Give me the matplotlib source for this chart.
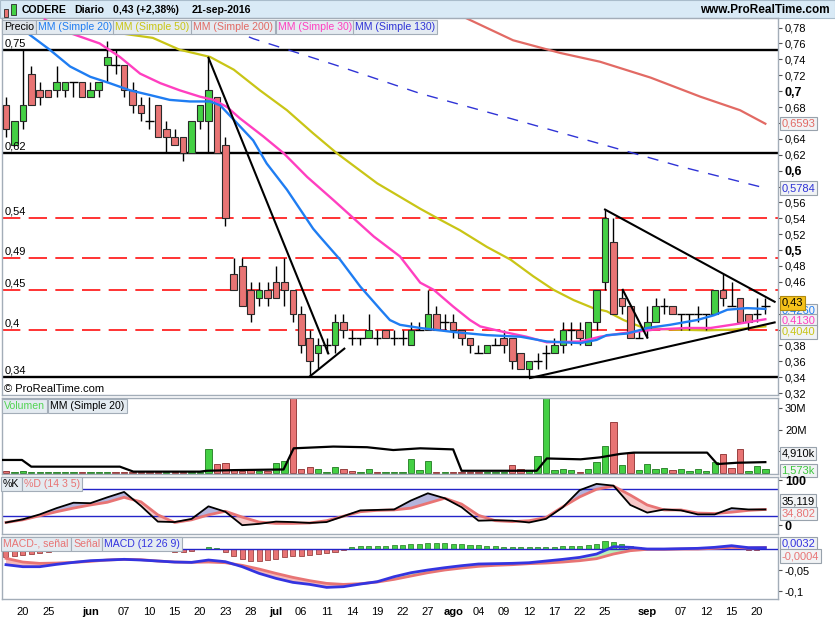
import numpy as np
import pandas as pd
import matplotlib
matplotlib.use("Agg")
import matplotlib.pyplot as plt
import matplotlib.transforms as mtransforms
from matplotlib.patches import Rectangle

plt.rcParams['font.family'] = ['Liberation Sans', 'DejaVu Sans']
plt.rcParams['font.size'] = 8

W, H = 835, 620

# ============================================================
# DATA
# ============================================================
dates = pd.bdate_range('2016-05-18', '2016-09-21')

opens = [0.682, 0.632, 0.662, 0.722, 0.702, 0.702, 0.702, 0.702, 0.712, 0.712,
         0.692, 0.702, 0.733, 0.733, 0.733, 0.702, 0.682, 0.662, 0.682, 0.652,
         0.642, 0.642, 0.622, 0.662, 0.662, 0.692, 0.632, 0.470, 0.480, 0.450,
         0.440, 0.450, 0.460, 0.460, 0.450, 0.420, 0.390, 0.370, 0.380, 0.380,
         0.410, 0.390, 0.390, 0.390, 0.390, 0.400, 0.390, 0.390, 0.380, 0.400,
         0.400, 0.420, 0.410, 0.410, 0.400, 0.390, 0.370, 0.370, 0.380, 0.390,
         0.390, 0.370, 0.350, 0.360, 0.370, 0.370, 0.380, 0.400, 0.400, 0.380,
         0.410, 0.460, 0.510, 0.440, 0.430, 0.390, 0.400, 0.410, 0.430, 0.430,
         0.420, 0.420, 0.420, 0.420, 0.420, 0.450, 0.430, 0.440, 0.420, 0.420,
         0.430]
highs = [0.692, 0.662, 0.753, 0.732, 0.712, 0.702, 0.732, 0.712, 0.712, 0.712,
         0.712, 0.712, 0.763, 0.753, 0.733, 0.712, 0.692, 0.692, 0.682, 0.662,
         0.652, 0.642, 0.662, 0.682, 0.742, 0.692, 0.642, 0.490, 0.490, 0.460,
         0.460, 0.460, 0.480, 0.490, 0.450, 0.430, 0.400, 0.390, 0.390, 0.420,
         0.420, 0.400, 0.390, 0.420, 0.400, 0.400, 0.400, 0.400, 0.410, 0.410,
         0.450, 0.430, 0.420, 0.420, 0.400, 0.390, 0.380, 0.380, 0.390, 0.400,
         0.390, 0.370, 0.360, 0.370, 0.380, 0.390, 0.410, 0.410, 0.410, 0.410,
         0.450, 0.550, 0.540, 0.450, 0.430, 0.400, 0.430, 0.440, 0.440, 0.430,
         0.420, 0.420, 0.430, 0.420, 0.450, 0.470, 0.460, 0.440, 0.420, 0.440,
         0.440]
lows = [0.642, 0.632, 0.652, 0.682, 0.682, 0.692, 0.692, 0.692, 0.692, 0.692,
        0.692, 0.692, 0.712, 0.722, 0.692, 0.672, 0.662, 0.652, 0.642, 0.622,
        0.632, 0.612, 0.622, 0.652, 0.622, 0.622, 0.530, 0.450, 0.430, 0.410,
        0.430, 0.430, 0.440, 0.430, 0.410, 0.370, 0.340, 0.350, 0.370, 0.370,
        0.390, 0.380, 0.380, 0.390, 0.380, 0.390, 0.380, 0.380, 0.380, 0.400,
        0.400, 0.400, 0.400, 0.390, 0.380, 0.370, 0.370, 0.370, 0.380, 0.370,
        0.350, 0.350, 0.340, 0.350, 0.350, 0.370, 0.370, 0.380, 0.380, 0.380,
        0.400, 0.450, 0.420, 0.420, 0.390, 0.390, 0.390, 0.410, 0.420, 0.420,
        0.400, 0.400, 0.410, 0.400, 0.420, 0.430, 0.430, 0.410, 0.400, 0.410,
        0.420]
closes = [0.652, 0.662, 0.682, 0.682, 0.692, 0.692, 0.712, 0.712, 0.712, 0.692,
          0.702, 0.712, 0.743, 0.733, 0.702, 0.682, 0.672, 0.662, 0.642, 0.642,
          0.632, 0.622, 0.662, 0.682, 0.702, 0.622, 0.540, 0.450, 0.430, 0.420,
          0.450, 0.440, 0.440, 0.450, 0.420, 0.380, 0.360, 0.380, 0.380, 0.410,
          0.400, 0.390, 0.390, 0.400, 0.390, 0.390, 0.390, 0.390, 0.400, 0.400,
          0.420, 0.400, 0.410, 0.400, 0.390, 0.380, 0.370, 0.380, 0.380, 0.380,
          0.360, 0.350, 0.360, 0.360, 0.370, 0.380, 0.400, 0.400, 0.390, 0.410,
          0.450, 0.540, 0.420, 0.430, 0.390, 0.390, 0.410, 0.430, 0.430, 0.420,
          0.420, 0.420, 0.420, 0.420, 0.450, 0.440, 0.430, 0.410, 0.410, 0.420,
          0.430]

# volume in millions of shares (two days go far off the top of the panel)
volume_m = [0.9, 0.4, 0.9, 0.4, 0.4, 0.4, 0.4, 0.1, 0.1, 0.1,
            0.1, 0.1, 0.4, 0.5, 0.5, 0.1, 0.1, 0.1, 0.1, 0.1,
            0.1, 0.1, 0.1, 0.1, 10.8, 3.9, 4.3, 1.2, 0.9, 1.2,
            0.9, 0.6, 4.3, 5.4, 200.0, 1.5, 2.5, 1.5, 0.5, 2.5,
            1.5, 0.9, 0.3, 1.5, 0.3, 0.1, 0.1, 0.3, 6.2, 1.2,
            5.4, 0.2, 0.2, 0.2, 0.2, 0.2, 0.2, 0.2, 0.2, 0.3,
            3.4, 1.5, 1.2, 7.7, 120.0, 1.2, 1.5, 1.2, 0.2, 1.8,
            5.0, 12.4, 23.6, 3.5, 9.0, 1.2, 3.9, 1.7, 2.0, 1.2,
            1.5, 0.8, 1.5, 0.8, 5.1, 8.7, 2.0, 10.8, 0.8, 3.1,
            1.6]
vol_ma_k = [-0.7, 1.9, 3.0, 11.1, 13.5, 15.1, 23.0, 23.8, 27.0, 32.9, 34.1, 38.8,
            42.8, 45.9, 49.1, 53.0, 54.0, 62.9, 64.1, 68.1, 70.4, 72.8, 74.4,
            83.1, 84.3, 86.6, 90.0]
vol_ma_v = [5.9, 5.9, 2.8, 2.8, 2.8, 0.5, 0.5, 0.9, 1.2, 1.5, 11.3, 12.1,
            11.8, 10.5, 11.3, 10.8, 0.9, 0.9, 6.6, 6.2, 7.1, 8.7, 9.3,
            9.3, 4.0, 4.6, 4.9]

# moving averages on price (position in trading days, value)
ma20_k = [1.7, 2.8, 5.2, 7.6, 10.0, 12.3, 14.7, 17.1, 19.4, 21.8, 24.2, 25.4, 27.0,
          29.3, 30.9, 33.3, 36.4, 37.2, 39.6, 42.0, 44.4, 45.5, 46.7, 49.1, 53.0,
          57.0, 61.0, 64.1, 68.1, 70.0, 71.2, 73.6, 76.0, 78.7, 81.9, 83.9, 85.5,
          87.8, 90.0]
ma20_v = [0.785, 0.771, 0.752, 0.731, 0.718, 0.710, 0.701, 0.695, 0.689, 0.687, 0.687,
          0.682, 0.664, 0.638, 0.609, 0.576, 0.527, 0.517, 0.488, 0.454, 0.425, 0.412,
          0.406, 0.402, 0.397, 0.393, 0.391, 0.385, 0.383, 0.387, 0.393, 0.395, 0.402,
          0.406, 0.412, 0.418, 0.425, 0.427, 0.426]
ma30_k = [4.6, 7.6, 11.1, 13.5, 15.9, 18.3, 20.6, 23.0, 24.6, 26.2, 27.7, 30.5, 32.9,
          35.7, 38.8, 41.2, 43.6, 46.7, 49.1, 50.7, 53.0, 55.0, 56.2, 59.0, 61.7, 64.1,
          68.1, 70.4, 72.8, 76.8, 80.7, 83.5, 86.6, 90.0]
ma30_v = [0.790, 0.773, 0.760, 0.743, 0.722, 0.710, 0.701, 0.693, 0.689, 0.680, 0.666,
          0.643, 0.622, 0.592, 0.563, 0.540, 0.517, 0.492, 0.459, 0.450, 0.429, 0.412,
          0.404, 0.397, 0.391, 0.384, 0.385, 0.391, 0.395, 0.400, 0.402, 0.402, 0.407,
          0.413]
ma50_k = [6.4, 12.7, 17.4, 20.6, 24.2, 27.0, 30.1, 33.3, 36.4, 39.2, 44.0, 49.1, 51.5,
          53.8, 57.0, 59.8, 62.5, 64.9, 67.3, 69.6, 71.2, 73.2, 75.6, 79.1, 83.1, 86.2,
          90.0]
ma50_v = [0.786, 0.774, 0.767, 0.752, 0.743, 0.727, 0.701, 0.676, 0.647, 0.622, 0.584,
          0.552, 0.538, 0.525, 0.504, 0.488, 0.467, 0.450, 0.437, 0.427, 0.423, 0.412,
          0.402, 0.400, 0.399, 0.400, 0.404]
ma130_k = [26.5, 29.3, 39.0, 49.1, 60.0, 70.0, 80.0, 90.0]
ma130_v = [0.778, 0.766, 0.733, 0.697, 0.665, 0.635, 0.605, 0.578]
ma200_k = [54.5, 60.1, 65.7, 70.4, 76.4, 82.3, 87.0, 90.0]
ma200_v = [0.792, 0.764, 0.748, 0.737, 0.717, 0.693, 0.676, 0.659]

# horizontal levels and drawn trendlines
solid_levels = [0.752, 0.622, 0.34]
solid_labels = ['0,75', '0,62', '0,34']
dash_levels = [0.54, 0.49, 0.45, 0.40]
dash_labels = ['0,54', '0,49', '0,45', '0,4']
trend_lines = [((24.0, 0.742), (38.2, 0.370)),
               ((36.0, 0.341), (40.1, 0.376)),
               ((71.0, 0.551), (91.1, 0.435)),
               ((62.1, 0.339), (91.1, 0.409)),
               ((73.1, 0.450), (76.0, 0.390))]

# oscillators sampled every second session
osc_idx = np.arange(0, 91, 2)
stoch_k = [6, 13, 24, 38, 50, 49, 62, 74, 43, 8, 7, 14, 42, 30, 0, 3, 8, 7, 5, 7,
           20, 33, 34, 35, 55, 71, 60, 40, 10, 11, 10, 6, 14, 40, 78, 92, 88, 45, 28,
           35, 33, 24, 24, 38, 35, 35]
stoch_d = [6, 12, 21, 30, 38, 45, 51, 62, 52, 23, 6, 12, 23, 31, 18, 7, 4, 4, 5, 10,
           20, 30, 33, 34, 38, 49, 60, 47, 22, 10, 8, 10, 17, 41, 63, 80, 87, 67, 45,
           34, 34, 27, 26, 29, 33, 35]
macd = [-0.0373, -0.0421, -0.0421, -0.0365, -0.0318, -0.0278, -0.0262, -0.0246,
        -0.0262, -0.0286, -0.0310, -0.0318, -0.0262, -0.0302, -0.0421, -0.0580,
        -0.0699, -0.0794, -0.0842, -0.0913, -0.0897, -0.0834, -0.0778, -0.0659,
        -0.0564, -0.0500, -0.0445, -0.0397, -0.0357, -0.0349, -0.0341, -0.0326,
        -0.0286, -0.0246, -0.0199, -0.0119, 0.0055, 0.0040, 0.0000, 0.0000,
        0.0008, 0.0016, 0.0040, 0.0079, 0.0032, 0.0032]
signal = [-0.0222, -0.0310, -0.0342, -0.0334, -0.0318, -0.0294, -0.0262, -0.0246,
          -0.0254, -0.0286, -0.0310, -0.0318, -0.0310, -0.0326, -0.0389, -0.0477,
          -0.0580, -0.0675, -0.0754, -0.0818, -0.0842, -0.0826, -0.0786, -0.0723,
          -0.0643, -0.0564, -0.0500, -0.0453, -0.0413, -0.0389, -0.0373, -0.0349,
          -0.0334, -0.0310, -0.0278, -0.0230, -0.0119, -0.0040, -0.0008, -0.0008,
          0.0000, 0.0000, 0.0016, 0.0040, 0.0024, 0.0036]
macd_hist = [-0.0183, -0.0167, -0.0151, -0.0127, -0.0103, -0.0079, -0.0040, -0.0010,
             0.0010, 0.0030, 0.0040, 0.0050, 0.0050, 0.0040, 0.0030, 0.0020, 0.0010,
             -0.0010, -0.0020, -0.0030, -0.0064, -0.0064, -0.0040, -0.0010, 0.0056,
             0.0020, -0.0079, -0.0167, -0.0246, -0.0278, -0.0286, -0.0262, -0.0230,
             -0.0199, -0.0175, -0.0159, -0.0151, -0.0127, -0.0103, -0.0064, -0.0024,
             0.0056, 0.0064, 0.0071, 0.0071, 0.0079, 0.0095, 0.0103, 0.0119, 0.0127,
             0.0135, 0.0135, 0.0135, 0.0127, 0.0119, 0.0103, 0.0095, 0.0079, 0.0071,
             0.0056, 0.0048, 0.0040, 0.0040, 0.0040, 0.0048, 0.0056, 0.0071, 0.0071,
             0.0079, 0.0095, 0.0119, 0.0199, 0.0159, 0.0119, 0.0079, 0.0040, 0.0016,
             0.0010, 0.0005, 0.0003, 0.0005, 0.0010, 0.0010, 0.0008, 0.0005, 0.0003,
             0.0001, -0.0010, -0.0030, -0.0030, -0.0004]

tick_dates = ['2016-05-20', '2016-05-25', '2016-06-01', '2016-06-07', '2016-06-10',
              '2016-06-15', '2016-06-20', '2016-06-23', '2016-06-28', '2016-07-01',
              '2016-07-06', '2016-07-11', '2016-07-14', '2016-07-19', '2016-07-22',
              '2016-07-27', '2016-08-01', '2016-08-04', '2016-08-09', '2016-08-12',
              '2016-08-17', '2016-08-22', '2016-08-25', '2016-09-01', '2016-09-07',
              '2016-09-12', '2016-09-15', '2016-09-20']
month_names = {6: 'jun', 7: 'jul', 8: 'ago', 9: 'sep'}

# price axis labels hidden behind the last-value boxes
hidden_price_ticks = [0.40, 0.42, 0.44, 0.58, 0.66]

# ============================================================
# STYLE
# ============================================================
GREEN, RED = '#44d044', '#e87474'
EDGE = '#2a2a2a'
FRAME = '#a3adb8'
C_MA20, C_MA50, C_MA200, C_MA30, C_MA130 = '#1f7df2', '#c9c516', '#e26a64', '#ff3fc0', '#2f33d6'
C_SIG = '#e87474'
C_BLUE = '#2424c8'


def fbox(x0, y0, x1, y1):
    """pixel box (top-left origin) -> figure rect"""
    return [x0 / W, 1 - y1 / H, (x1 - x0) / W, (y1 - y0) / H]


def px(x, y):
    return x / W, 1 - y / H


def style_axis(ax):
    for s in ax.spines.values():
        s.set_color(FRAME)
        s.set_linewidth(1)
    ax.yaxis.tick_right()
    ax.tick_params(axis='y', direction='out', length=3, pad=2, labelsize=8,
                   color='#505050', labelcolor='black')
    ax.tick_params(axis='x', bottom=False, labelbottom=False)


def value_box(ax, y, txt, color, fc='#f1f3f5', dy=0, ec='#98a2ac'):
    tr = mtransforms.blended_transform_factory(ax.transAxes, ax.transData)
    ax.annotate(txt, xy=(1.0, y), xycoords=tr, xytext=(2.5, dy), textcoords='offset points',
                ha='left', va='center', color=color, fontsize=8,
                bbox=dict(boxstyle='square,pad=0.15', fc=fc, ec=ec, lw=0.8),
                zorder=10, annotation_clip=False)


def comma(v, nd):
    return f'{v:.{nd}f}'.replace('.', ',')


fig = plt.figure(figsize=(W / 100, H / 100), dpi=100)
fig.patch.set_facecolor('white')

ax_p = fig.add_axes(fbox(2, 18, 778, 395))
ax_v = fig.add_axes(fbox(2, 398, 778, 474), sharex=ax_p)
ax_s = fig.add_axes(fbox(2, 477, 778, 534), sharex=ax_p)
ax_m = fig.add_axes(fbox(2, 537, 778, 599), sharex=ax_p)
for a in (ax_p, ax_v, ax_s, ax_m):
    style_axis(a)

x = np.arange(len(dates))
o, h, l, c = map(np.asarray, (opens, highs, lows, closes))
up = c >= o

# ---------------- price panel ----------------
for lev in solid_levels:
    ax_p.axhline(lev, color='black', lw=1.7, zorder=1)
for lev in dash_levels:
    ax_p.axhline(lev, color='#ff1010', lw=1.2, dashes=(11, 5), zorder=1)
lev_tr = mtransforms.blended_transform_factory(ax_p.transAxes, ax_p.transData)
for lev, lbl in zip(solid_levels + dash_levels, solid_labels + dash_labels):
    ax_p.annotate(lbl, xy=(0.003, lev), xycoords=lev_tr, xytext=(0, 1),
                  textcoords='offset points', ha='left', va='bottom', fontsize=8, zorder=6)

ax_p.plot(ma200_k, ma200_v, color=C_MA200, lw=1.6, zorder=2)
ax_p.plot(ma130_k, ma130_v, color=C_MA130, lw=1.0, dashes=(8, 7), zorder=2)
ax_p.plot(ma50_k, ma50_v, color=C_MA50, lw=1.6, zorder=2)

ax_p.vlines(x, l, h, color='black', lw=1, zorder=3)
body = np.abs(c - o)
flat = body < 1e-9
ax_p.bar(x[~flat], body[~flat], bottom=np.minimum(o, c)[~flat], width=0.78,
         color=np.where(up, GREEN, RED)[~flat], edgecolor=EDGE, lw=0.8, zorder=4)
ax_p.hlines(o[flat], x[flat] - 0.5, x[flat] + 0.5, color='black', lw=1, zorder=4)

ax_p.plot(ma30_k, ma30_v, color=C_MA30, lw=1.7, zorder=5)
ax_p.plot(ma20_k, ma20_v, color=C_MA20, lw=1.7, zorder=5)

for (x0, y0), (x1, y1) in trend_lines:
    ax_p.plot([x0, x1], [y0, y1], color='black', lw=1.5, zorder=6)

ax_p.set_ylim(0.3177, 0.792)
ax_p.set_xlim(-0.47, 91.5)
p_ticks = np.round(np.arange(0.32, 0.781, 0.02), 2)
p_labels = []
for t in p_ticks:
    if any(abs(t - hp) < 1e-6 for hp in hidden_price_ticks):
        p_labels.append('')
    elif round(t * 10, 6) % 1 == 0:
        p_labels.append(comma(t, 1))
    else:
        p_labels.append(comma(t, 2))
ax_p.set_yticks(p_ticks, labels=p_labels)
for t, lab in zip(p_ticks, ax_p.get_yticklabels()):
    if round(t * 10, 6) % 1 == 0:
        lab.set_fontweight('bold')
        lab.set_fontsize(9)

value_box(ax_p, ma200_v[-1], '0,6593', C_MA200)
value_box(ax_p, ma130_v[-1], '0,5784', C_MA130)
value_box(ax_p, ma20_v[-1], '0,4260', C_MA20, dy=-1)
value_box(ax_p, ma30_v[-1], '0,4130', C_MA30, dy=-1)
value_box(ax_p, ma50_v[-1], '0,4040', C_MA50, dy=-4)
value_box(ax_p, closes[-1], '0,43', 'black', fc='#f5c21b', ec='#b08a10', dy=2)

ax_p.text(0.003, 0.016, '\u00a9 ProRealTime.com', transform=ax_p.transAxes,
          ha='left', va='center', fontsize=8)

# ---------------- volume panel ----------------
prev_close = np.concatenate([[o[0]], c[:-1]])
vol_up = c >= prev_close
ax_v.bar(x, volume_m, width=0.75, color=np.where(vol_up, GREEN, RED),
         edgecolor=np.where(vol_up, '#1f7a1f', '#8a2c2c'), lw=0.6, zorder=2)
ax_v.plot(vol_ma_k, vol_ma_v, color='black', lw=1.6, zorder=3)
ax_v.set_ylim(-0.6, 34.6)
ax_v.set_yticks([10, 20, 30], labels=['10M', '20M', '30M'])
value_box(ax_v, 4.91, '4,910k', 'black', dy=6)
value_box(ax_v, 1.573, '1,573k', '#3cc83c', dy=-1)

# ---------------- stochastic panel ----------------
sk, sd = np.asarray(stoch_k, float), np.asarray(stoch_d, float)
ax_s.fill_between(osc_idx, sk, sd, where=sk >= sd, interpolate=True, color='#b4b4dc', lw=0)
ax_s.fill_between(osc_idx, sk, sd, where=sk < sd, interpolate=True, color='#f6c9c9', lw=0)
ax_s.axhline(80, color=C_BLUE, lw=1)
ax_s.axhline(20, color=C_BLUE, lw=1)
ax_s.plot(osc_idx, sd, color=C_SIG, lw=2)
ax_s.plot(osc_idx, sk, color='black', lw=1.3)
ax_s.set_ylim(-19.6, 107.3)
ax_s.set_yticks([0, 100], labels=['0', '100'])
for lab in ax_s.get_yticklabels():
    lab.set_fontweight('bold')
    lab.set_fontsize(9)
value_box(ax_s, 35.119, '35,119', 'black', dy=6)
value_box(ax_s, 34.802, '34,802', C_SIG, dy=-3)

# ---------------- MACD panel ----------------
mc, sg = np.asarray(macd), np.asarray(signal)
ax_m.fill_between(osc_idx, mc, sg, where=mc >= sg, interpolate=True, color='#b8f0b8', lw=0)
ax_m.fill_between(osc_idx, mc, sg, where=mc < sg, interpolate=True, color='#f4b9b9', lw=0)
hist = np.asarray(macd_hist)
ax_m.bar(x, hist, width=0.6, color=np.where(hist >= 0, GREEN, RED),
         edgecolor=np.where(hist >= 0, '#1f7a1f', '#8a2c2c'), lw=0.5, zorder=2)
ax_m.axhline(0, color=C_BLUE, lw=1, zorder=3)
ax_m.plot(osc_idx, sg, color=C_SIG, lw=2, zorder=4)
ax_m.plot(osc_idx, mc, color='#3434e0', lw=2, zorder=5)
ax_m.set_ylim(-0.119, 0.0286)
ax_m.set_yticks([-0.1, -0.05], labels=['-0,1', '-0,05'])
value_box(ax_m, 0.0032, '0,0032', '#3434e0', dy=3)
value_box(ax_m, -0.0004, '-0,0004', C_SIG, dy=-5)

# x axis labels (dates) under the MACD panel
tick_ts = pd.to_datetime(tick_dates)
tick_pos = dates.get_indexer(tick_ts)
tick_lbl = [month_names[t.month] if t.day == 1 else f'{t.day:02d}' for t in tick_ts]
ax_m.tick_params(axis='x', bottom=False, labelbottom=True, pad=2, labelsize=8)
ax_m.set_xticks(tick_pos, labels=tick_lbl)
for t, lab in zip(tick_ts, ax_m.get_xticklabels()):
    if t.day == 1:
        lab.set_fontweight('bold')
for a in (ax_p, ax_v, ax_s):
    a.tick_params(axis='x', bottom=False, labelbottom=False)

# ---------------- header & legends ----------------
fig.add_artist(Rectangle(px(0, 18), 1, 18 / H, transform=fig.transFigure,
                         fc='#d9eaf6', ec='#a9bccb', lw=0.8, zorder=0))
fig.add_artist(Rectangle(px(3.5, 17), 4 / W, 8 / H, transform=fig.transFigure,
                         fc=RED, ec=EDGE, lw=0.6))
fig.add_artist(Rectangle(px(11, 15), 4.5 / W, 11 / H, transform=fig.transFigure,
                         fc=GREEN, ec=EDGE, lw=0.6))
fig.text(*px(22, 10), 'CODERE', fontsize=7.6, fontweight='bold', va='center')
fig.text(*px(74, 10), 'Diario', fontsize=7.6, fontweight='bold', va='center')
fig.text(*px(113, 10), '0,43 (+2,38%)', fontsize=7.6, fontweight='bold', va='center')
fig.text(*px(192, 10), '21-sep-2016', fontsize=7.6, fontweight='bold', va='center')
fig.text(*px(830, 10), 'www.ProRealTime.com', fontsize=8.5, fontweight='bold',
         va='center', ha='right')


def tag(xp, yp, s, color, fc='#e4ebf1'):
    fig.text(*px(xp, yp), s, color=color, fontsize=7.6, ha='left', va='center', zorder=20,
             bbox=dict(boxstyle='square,pad=0.22', fc=fc, ec=FRAME, lw=0.8))


tag(4, 27, 'Precio', 'black', fc='#dde3e9')
tag(38, 27, 'MM (Simple 20)', C_MA20)
tag(115, 27, 'MM (Simple 50)', C_MA50)
tag(193, 27, 'MM (Simple 200)', C_MA200)
tag(278, 27, 'MM (Simple 30)', C_MA30)
tag(355, 27, 'MM (Simple 130)', C_MA130)

tag(4, 406, 'Volumen', '#52d452')
tag(50, 406, 'MM (Simple 20)', 'black')

tag(3, 484, '%K', 'black')
tag(24, 484, '%D (14 3 5)', C_SIG)

tag(3, 544, 'MACD-, se\u00f1al', C_SIG)
tag(73, 544, 'Se\u00f1al', C_SIG)
tag(104, 544, 'MACD (12 26 9)', '#3434e0')

fig.savefig('out.png', dpi=100, facecolor='white')
